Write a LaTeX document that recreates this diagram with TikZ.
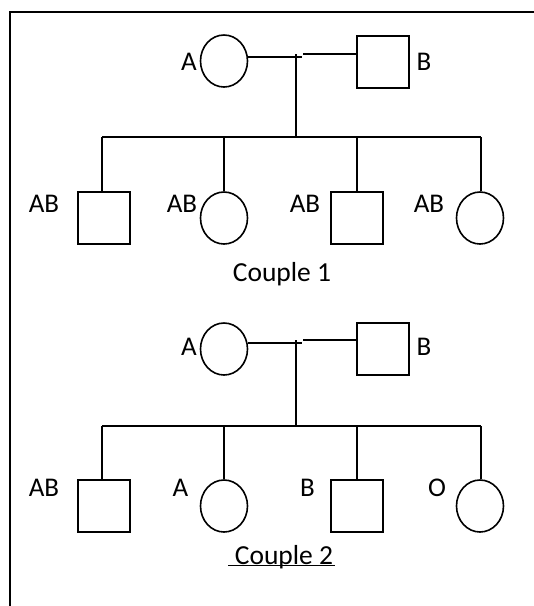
\documentclass[tikz,border=0pt]{standalone}
\usepackage{fontspec}
\setmainfont{Carlito}
\usetikzlibrary{shapes.geometric}
\begin{document}
\begin{tikzpicture}[x=1pt,y=-1pt,
  line width=1.6pt,
  female/.style={draw,ellipse,minimum width=47pt,minimum height=52pt,inner sep=0pt},
  male/.style={draw,rectangle,minimum width=52pt,minimum height=52pt,inner sep=0pt},
  lbl/.style={font=\fontsize{27}{30}\selectfont,inner sep=0pt},
  title/.style={font=\fontsize{27.5}{30}\selectfont,inner sep=1pt}]
\useasboundingbox (0,0) rectangle (534,606);
% frame (top and left only)
\coordinate (ftr) at (534,12);
\coordinate (ftl) at (10,12);
\coordinate (fbl) at (10,606);
\draw (ftr) -- (ftl) -- (fbl);

% ---------- Couple 1 ----------
\node[female] (pA1) at (224,61) {};
\node[male] (pB1) at (383,62) {};
\node[lbl] (lA1) at (189,62) {A};
\node[lbl] (lB1) at (424,62) {B};
\coordinate (mL1) at (302,57);
\coordinate (mR1) at (303,54);
\coordinate (m1) at (296,54);
\coordinate (s1) at (296,137);
\draw (mL1 -| pA1.east) -- (mL1);
\draw (mR1) -- (mR1 -| pB1.west);
\draw (m1) -- (s1);

\node[male] (c11) at (104,218) {};
\node[female] (c12) at (224,218) {};
\node[male] (c13) at (357,218) {};
\node[female] (c14) at (480,218) {};
\coordinate (sl1) at (102,137);
\coordinate (sr1) at (481,137);
\draw (sl1) -- (sr1);
\draw (sl1) -- (sl1 |- c11.north);
\draw (c12.north |- sl1) -- (c12.north);
\draw (c13.north |- sl1) -- (c13.north);
\draw (sr1) -- (sr1 |- c14.north);
\node[lbl] (l11) at (44,204) {AB};
\node[lbl] (l12) at (182,204) {AB};
\node[lbl] (l13) at (305,204) {AB};
\node[lbl] (l14) at (429,204) {AB};
\node[title] (t1) at (282,274) {Couple 1};

% ---------- Couple 2 ----------
\node[female] (pA2) at (224,349) {};
\node[male] (pB2) at (383,349) {};
\node[lbl] (lA2) at (189,347) {A};
\node[lbl] (lB2) at (424,347) {B};
\coordinate (mL2) at (302,343);
\coordinate (mR2) at (303,340);
\coordinate (m2) at (296,340);
\coordinate (s2) at (296,426);
\draw (mL2 -| pA2.east) -- (mL2);
\draw (mR2) -- (mR2 -| pB2.west);
\draw (m2) -- (s2);

\node[male] (c21) at (104,506) {};
\node[female] (c22) at (224,506) {};
\node[male] (c23) at (357,506) {};
\node[female] (c24) at (480,506) {};
\coordinate (sl2) at (102,426);
\coordinate (sr2) at (481,426);
\draw (sl2) -- (sr2);
\draw (sl2) -- (sl2 |- c21.north);
\draw (c22.north |- sl2) -- (c22.north);
\draw (c23.north |- sl2) -- (c23.north);
\draw (sr2) -- (sr2 |- c24.north);
\node[lbl] (l21) at (44,488) {AB};
\node[lbl] (l22) at (180.5,488) {A};
\node[lbl] (l23) at (307.5,488) {B};
\node[lbl] (l24) at (437,488) {O};
\node[title] (t2) at (284,557) {Couple 2};
\coordinate (u2a) at ([xshift=-5pt,yshift=5pt]t2.south west);
\coordinate (u2b) at ([yshift=5pt]t2.south east);
\draw (u2a) -- (u2b);
\end{tikzpicture}
\end{document}
